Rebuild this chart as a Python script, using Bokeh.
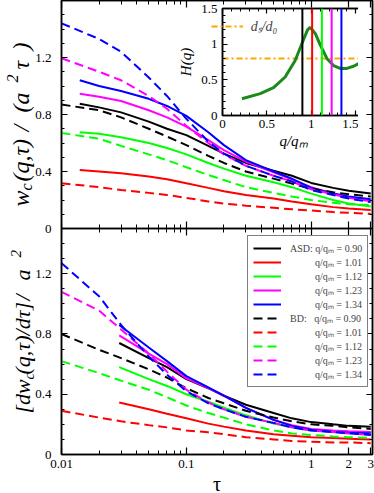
import math
from bokeh.plotting import figure
from bokeh.models import (Range1d, FixedTicker, LinearAxis, LogAxis, Legend,
                          LegendItem, Span, CustomJSTickFormatter)
from bokeh.core.properties import value
from bokeh.layouts import column
from bokeh.embed import file_html
from bokeh.resources import INLINE

FONT = "Liberation Serif"

# ---------------- data ----------------
q_values = [0.90, 1.01, 1.12, 1.23, 1.34]
colors = ["#000000", "#ff0000", "#00ff00", "#ff00ff", "#0000ff"]

tau_bd = [0.01, 0.02, 0.03, 0.05, 0.07, 0.1, 0.15, 0.2, 0.3, 0.5, 0.7, 1.0, 1.5, 2.0, 3.0]
tau_asd_top = [0.014, 0.02, 0.03, 0.05, 0.07, 0.1, 0.15, 0.2, 0.3, 0.5, 0.7, 1.0, 1.5, 2.0, 3.0]
tau_asd_bot = [0.029, 0.05, 0.07, 0.1, 0.15, 0.2, 0.3, 0.5, 0.7, 1.0, 1.5, 2.0, 3.0]

# top panel: w_c(q,tau)/(a^2 tau)
w_asd_090 = [0.875, 0.85, 0.815, 0.75, 0.70, 0.655, 0.58, 0.525, 0.46, 0.405, 0.37, 0.32, 0.285, 0.265, 0.245]
w_asd_101 = [0.41, 0.40, 0.388, 0.365, 0.345, 0.318, 0.285, 0.262, 0.235, 0.21, 0.19, 0.17, 0.15, 0.14, 0.13]
w_asd_112 = [0.676, 0.665, 0.64, 0.60, 0.565, 0.52, 0.46, 0.42, 0.37, 0.325, 0.29, 0.245, 0.20, 0.175, 0.155]
w_asd_123 = [0.945, 0.925, 0.895, 0.83, 0.78, 0.715, 0.62, 0.55, 0.47, 0.395, 0.345, 0.29, 0.245, 0.22, 0.20]
w_asd_134 = [1.04, 1.00, 0.965, 0.91, 0.86, 0.79, 0.675, 0.585, 0.48, 0.40, 0.35, 0.285, 0.245, 0.225, 0.205]

w_bd_090 = [0.87, 0.83, 0.78, 0.70, 0.645, 0.585, 0.51, 0.46, 0.40, 0.35, 0.315, 0.28, 0.255, 0.24, 0.225]
w_bd_101 = [0.318, 0.29, 0.27, 0.25, 0.235, 0.215, 0.19, 0.175, 0.16, 0.145, 0.135, 0.126, 0.115, 0.11, 0.103]
w_bd_112 = [0.67, 0.63, 0.58, 0.52, 0.48, 0.43, 0.375, 0.34, 0.29, 0.25, 0.225, 0.20, 0.18, 0.17, 0.165]
w_bd_123 = [1.195, 1.10, 1.04, 0.93, 0.84, 0.72, 0.60, 0.52, 0.44, 0.37, 0.33, 0.275, 0.24, 0.215, 0.19]
w_bd_134 = [1.44, 1.33, 1.24, 1.06, 0.93, 0.77, 0.61, 0.525, 0.44, 0.37, 0.33, 0.27, 0.235, 0.21, 0.185]

# bottom panel: [dw_c(q,tau)/dtau]/a^2
d_asd_090 = [0.74, 0.64, 0.58, 0.50, 0.44, 0.39, 0.33, 0.275, 0.24, 0.215, 0.20, 0.19, 0.185]
d_asd_101 = [0.345, 0.30, 0.27, 0.24, 0.205, 0.185, 0.16, 0.135, 0.125, 0.115, 0.11, 0.105, 0.10]
d_asd_112 = [0.58, 0.50, 0.455, 0.40, 0.35, 0.31, 0.26, 0.205, 0.18, 0.16, 0.15, 0.15, 0.15]
d_asd_123 = [0.79, 0.67, 0.60, 0.505, 0.44, 0.39, 0.31, 0.23, 0.195, 0.17, 0.16, 0.155, 0.15]
d_asd_134 = [0.86, 0.71, 0.62, 0.52, 0.445, 0.39, 0.31, 0.23, 0.19, 0.165, 0.15, 0.145, 0.14]

d_bd_090 = [0.80, 0.695, 0.64, 0.565, 0.51, 0.44, 0.375, 0.34, 0.29, 0.245, 0.22, 0.20, 0.19, 0.18, 0.17]
d_bd_101 = [0.29, 0.245, 0.22, 0.195, 0.18, 0.16, 0.147, 0.135, 0.115, 0.10, 0.09, 0.085, 0.08, 0.08, 0.075]
d_bd_112 = [0.62, 0.54, 0.49, 0.43, 0.38, 0.325, 0.275, 0.245, 0.20, 0.16, 0.14, 0.13, 0.12, 0.115, 0.11]
d_bd_123 = [1.08, 0.955, 0.83, 0.67, 0.55, 0.43, 0.345, 0.30, 0.25, 0.21, 0.18, 0.16, 0.15, 0.14, 0.13]
d_bd_134 = [1.27, 1.05, 0.86, 0.65, 0.53, 0.42, 0.34, 0.30, 0.25, 0.21, 0.18, 0.16, 0.15, 0.14, 0.13]

# inset: H(q)
q_h = [0.219, 0.425, 0.575, 0.706, 0.819, 0.895, 0.958, 0.988, 1.045, 1.101, 1.176, 1.251, 1.326, 1.402, 1.476, 1.571]
h_q = [0.235, 0.306, 0.39, 0.54, 0.77, 1.01, 1.20, 1.235, 1.15, 0.99, 0.80, 0.70, 0.66, 0.66, 0.69, 0.75]
ds_d0 = 0.80
inset_q_range = [0.0, 1.6]
inset_h_range = [0.0, 1.5]

top_y_range = [0.0, 1.6]
bottom_y_range = [0.0, 1.5]
x_limits = [0.01, 3.1]
x_major = [0.01, 0.1, 1, 2, 3]
x_minor = [0.02, 0.03, 0.04, 0.05, 0.06, 0.07, 0.08, 0.09,
           0.2, 0.3, 0.4, 0.5, 0.6, 0.7, 0.8, 0.9]
y_major = [0, 0.4, 0.8, 1.2]

NB = "\u00a0"
legend_labels_asd = ["ASD: q/qₘ = 0.90"] + [NB * 10 + "q/qₘ = %.2f" % q for q in q_values[1:]]
legend_labels_bd = ["BD:" + NB * 3 + "q/qₘ = 0.90"] + [NB * 10 + "q/qₘ = %.2f" % q for q in q_values[1:]]

# axis titles: pieces of text (text, start pixel from top, x shift, size)
title_top = [("w", 206, 0, "24px"), ("c", 190, 6, "16px"), ("(q,τ)", 181, 0, "24px"),
             ("/", 131, 0, "24px"), ("(a", 112, 0, "24px"), ("2", 82, -8, "16px"),
             ("τ", 69, 0, "24px"), (")", 50, 0, "24px")]
title_bot = [("[dw", 413, 0, "22px"), ("c", 379, 6, "15px"), ("(q,τ)/dτ]", 374, 0, "22px"),
             ("/", 300, 0, "22px"), ("a", 280, 0, "22px"), ("2", 257, -7, "15px")]

w_asd = [w_asd_090, w_asd_101, w_asd_112, w_asd_123, w_asd_134]
w_bd = [w_bd_090, w_bd_101, w_bd_112, w_bd_123, w_bd_134]
d_asd = [d_asd_090, d_asd_101, d_asd_112, d_asd_123, d_asd_134]
d_bd = [d_bd_090, d_bd_101, d_bd_112, d_bd_123, d_bd_134]

DASH = "9 5"
BLANK = CustomJSTickFormatter(code="return ''")
PLAIN = CustomJSTickFormatter(code="return tick.toString()")


def style_axis(ax, labels=True, major_in=6, minor_in=3, standoff=8, formatter=None):
    ax.axis_line_color = "black"
    ax.axis_line_width = 1.5
    ax.major_tick_in = major_in
    ax.major_tick_out = 0
    ax.minor_tick_in = minor_in
    ax.minor_tick_out = 0
    ax.major_tick_line_color = "black"
    ax.minor_tick_line_color = "black"
    ax.major_tick_line_width = 1.2
    ax.minor_tick_line_width = 1.0
    ax.major_label_text_font = FONT
    ax.major_label_text_font_size = "13px"
    ax.major_label_text_color = "black"
    ax.axis_label_text_font = FONT
    ax.axis_label_text_color = "black"
    ax.axis_label_text_font_style = "italic"
    if labels:
        ax.formatter = formatter if formatter is not None else PLAIN
        ax.major_label_standoff = standoff
    else:
        ax.formatter = BLANK
        ax.major_label_standoff = 0


# ---------------- main figure: two stacked panels in one frame ----------------
LEFT_B = 61                                        # left border shared by the column
RIGHT_B = 5
FRAME_W, TOP_H, BOT_H = 311, 228, 226
FRAME_H = TOP_H + BOT_H
BE = bottom_y_range[1] * FRAME_H / BOT_H          # end of bottom-panel range
TS = -top_y_range[1] * BOT_H / TOP_H              # start of top-panel range
TE = top_y_range[1]


def top_to_bottom_coord(v):
    return (v - TS) / (TE - TS) * BE


bot_minor = [round(0.1 * i, 1) for i in range(0, 16)]
top_minor = [round(0.1 * i, 1) for i in range(0, 17)]
y_ticks = y_major + [top_to_bottom_coord(v) for v in y_major]
y_minor = bot_minor + [top_to_bottom_coord(v) for v in top_minor]
yt = FixedTicker(ticks=y_ticks, minor_ticks=y_minor)
y_fmt = CustomJSTickFormatter(args=dict(BE=BE, TS=TS, TE=TE, SPLIT=1.45), code="""
    let v = tick;
    if (tick > SPLIT) { v = tick / BE * (TE - TS) + TS; }
    return String(Math.round(v * 10) / 10);
""")

p = figure(frame_width=FRAME_W, frame_height=FRAME_H, x_axis_type="log",
           x_range=Range1d(*x_limits), y_range=Range1d(bottom_y_range[0], BE),
           min_border_left=LEFT_B, min_border_right=2, min_border_top=0, min_border_bottom=0,
           output_backend="svg", toolbar_location=None)
p.extra_y_ranges = {"top": Range1d(TS, TE)}
p.grid.visible = False
p.outline_line_color = "black"
p.outline_line_width = 1.5
p.background_fill_color = "white"
p.border_fill_color = "white"

xt = FixedTicker(ticks=x_major, minor_ticks=x_minor)

xb = p.below[0]
xb.ticker = xt
style_axis(xb, labels=True, major_in=7, minor_in=4, standoff=5)
xb.axis_label = "τ"
xb.axis_label_text_font_size = "20px"
xb.axis_label_text_font_style = "normal"
xb.axis_label_standoff = 2

yl = p.left[0]
yl.ticker = yt
style_axis(yl, labels=True, standoff=10, formatter=y_fmt)

yr = LinearAxis(ticker=yt)
style_axis(yr, labels=False)
p.add_layout(yr, "right")

xa = LogAxis(ticker=xt)
style_axis(xa, labels=False, major_in=7, minor_in=4)
p.add_layout(xa, "above")

# separator between the panels: ticks up into the top panel and down into the bottom one
xs_t = LogAxis(ticker=xt, fixed_location=bottom_y_range[1])
style_axis(xs_t, labels=False, major_in=7, minor_in=4)
p.add_layout(xs_t, "below")
xs_b = LogAxis(ticker=xt, fixed_location=bottom_y_range[1])
style_axis(xs_b, labels=False, major_in=7, minor_in=4)
p.add_layout(xs_b, "above")

for c, ys in zip(colors, w_asd):
    p.line(tau_asd_top, ys, line_color=c, line_width=2, y_range_name="top")
for c, ys in zip(colors, w_bd):
    p.line(tau_bd, ys, line_color=c, line_width=2, line_dash=DASH, y_range_name="top")

items = []
for c, ys, lab in zip(colors, d_asd, legend_labels_asd):
    r = p.line(tau_asd_bot, ys, line_color=c, line_width=2)
    items.append(LegendItem(label=lab, renderers=[r]))
for c, ys, lab in zip(colors, d_bd, legend_labels_bd):
    r = p.line(tau_bd, ys, line_color=c, line_width=2, line_dash=DASH)
    items.append(LegendItem(label=lab, renderers=[r]))
leg = Legend(items=items, location=(FRAME_W - 8 - 117, BOT_H - 8 - 151), padding=5, spacing=0,
             glyph_width=28, glyph_height=14, label_height=14, label_standoff=9,
             label_text_font=FONT, label_text_font_size="10px",
             border_line_color="black", border_line_width=1,
             background_fill_color="white", background_fill_alpha=1)
p.add_layout(leg)

# ---------------- inset (its left border is aligned to LEFT_B by the column) ----------------
pi = figure(frame_width=142, frame_height=107,
            x_range=Range1d(*inset_q_range), y_range=Range1d(*inset_h_range),
            min_border_left=50, min_border_right=RIGHT_B, min_border_top=8,
            min_border_bottom=45, output_backend="svg", toolbar_location=None,
            styles={"position": "absolute", "left": "%dpx" % (222 - LEFT_B), "top": "0px"})
pi.grid.visible = False
pi.outline_line_color = "black"
pi.outline_line_width = 1.5
pi.background_fill_color = "white"
pi.border_fill_color = None
it_x = FixedTicker(ticks=[0, 0.5, 1, 1.5], minor_ticks=[round(0.1 * i, 1) for i in range(17)])
it_y = FixedTicker(ticks=[0, 0.5, 1, 1.5], minor_ticks=[round(0.1 * i, 1) for i in range(16)])
ix = pi.below[0]
iy = pi.left[0]
ix.ticker = it_x
iy.ticker = it_y
style_axis(ix, labels=True, major_in=5, minor_in=3, standoff=4)
style_axis(iy, labels=True, major_in=5, minor_in=3, standoff=5)
ix.axis_label = "q/qₘ"
iy.axis_label = "H(q)"
ix.axis_label_text_font_size = "15px"
iy.axis_label_text_font_size = "15px"
ix.axis_label_standoff = 2
iy.axis_label_standoff = 4
ia = LinearAxis(ticker=it_x)
style_axis(ia, labels=False, major_in=5, minor_in=3)
pi.add_layout(ia, "above")
ir = LinearAxis(ticker=it_y)
style_axis(ir, labels=False, major_in=5, minor_in=3)
pi.add_layout(ir, "right")

r_ds = pi.line(inset_q_range, [ds_d0, ds_d0], line_color="#ffa500", line_width=2,
               line_dash="6 3 2 3")
for c, q in zip(colors, q_values):
    pi.add_layout(Span(location=q, dimension="height", line_color=c, line_width=2))
pi.line(q_h, h_q, line_color="#1a8a1a", line_width=3)
ileg = Legend(items=[LegendItem(label="dₛ/d₀", renderers=[r_ds])], location=(0, 80),
              padding=0, margin=0, glyph_width=32, glyph_height=16, label_height=16,
              label_standoff=8, label_text_font=FONT, label_text_font_size="14px",
              label_text_font_style="italic", border_line_color=None,
              background_fill_alpha=0)
pi.add_layout(ileg)

# ---------------- rotated y titles (transparent overlay figure) ----------------
# The column gives this figure the same left border (LEFT_B) as the main plot, so the
# figure is shifted left by LEFT_B and its frame then starts at the page's left edge.
OW, OH = 374, 454
OFW = OW - LEFT_B - RIGHT_B
pt = figure(width=OW, height=OH, x_range=Range1d(0, OFW), y_range=Range1d(0, OH),
            min_border=0, min_border_left=0, min_border_right=0, min_border_top=0,
            min_border_bottom=0, x_axis_location=None, y_axis_location=None,
            output_backend="svg", toolbar_location=None,
            styles={"position": "absolute", "left": "%dpx" % (-LEFT_B), "top": "0px"})
pt.grid.visible = False
pt.outline_line_color = None
pt.background_fill_alpha = 0
pt.border_fill_alpha = 0


def add_title(pieces, xc):
    for text, py, dx, size in pieces:
        pt.text(x=[xc + dx], y=[OH - py], text=[text], angle=math.pi / 2,
                text_align="left", text_baseline="middle", text_font=value(FONT),
                text_font_style="italic", text_font_size=value(size), text_color="black")


add_title(title_top, 20)
add_title(title_bot, 22)

layout = column(p, pi, pt, spacing=0)

open("out.html", "w").write(file_html(layout, INLINE))
